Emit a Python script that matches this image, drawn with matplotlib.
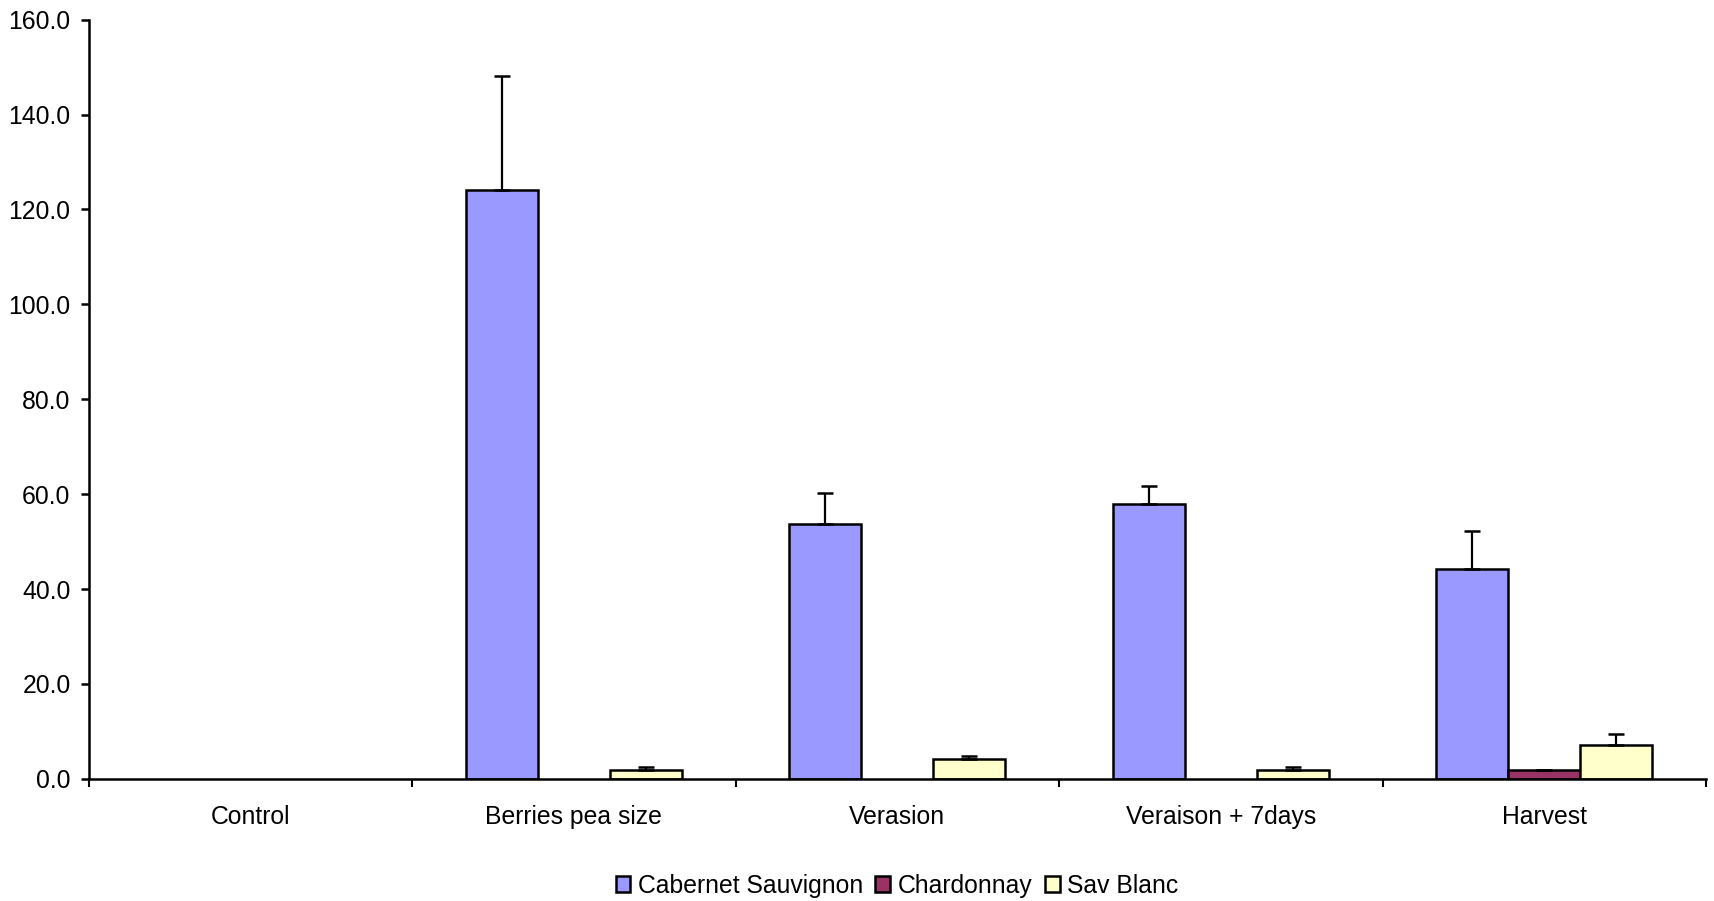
import matplotlib
matplotlib.use("Agg")
import matplotlib.pyplot as plt
import numpy as np
from matplotlib.ticker import FixedLocator, FormatStrFormatter

categories = ["Control", "Berries pea size", "Verasion", "Veraison + 7days", "Harvest"]
series_names = ["Cabernet Sauvignon", "Chardonnay", "Sav Blanc"]
cab = [0.0, 124.0, 53.8, 57.9, 44.2]
cab_err = [0.0, 24.2, 6.5, 3.9, 8.0]
chard = [0.0, 0.0, 0.0, 0.0, 1.85]
chard_err = [0.0, 0.0, 0.0, 0.0, 0.1]
sav = [0.0, 1.9, 4.2, 1.9, 7.1]
sav_err = [0.0, 0.55, 0.7, 0.55, 2.3]
colors = ["#9999FF", "#993366", "#FFFFCC"]

plt.rcParams['font.family'] = ['Liberation Sans', 'DejaVu Sans']
fig = plt.figure(figsize=(17.15, 9.01), dpi=100)
ax = fig.add_axes([88.6/1715, 1-778.8/901, (1706-88.6)/1715, (778.8-19.7)/901])

FS = 17.8
x = np.arange(len(categories))
bw = 1/4.5
data = [(cab, cab_err), (chard, chard_err), (sav, sav_err)]
handles = []
for i, ((vals, errs), c) in enumerate(zip(data, colors)):
    pos = x + (i-1)*bw
    v = np.array(vals); e = np.array(errs)
    lws = [1.8 if val > 0 else 0.0 for val in v]
    b = ax.bar(pos, v, width=bw, color=c, edgecolor='black', linewidth=lws, label=series_names[i], zorder=2)
    handles.append(b)
    mask = v > 0
    ax.errorbar(pos[mask], v[mask], yerr=[np.zeros(mask.sum()), e[mask]], fmt='none',
                ecolor='black', elinewidth=1.6, capsize=6, capthick=1.8, zorder=3)

ax.set_xlim(-0.5, len(categories)-0.5)
ax.set_ylim(0, 160)
ax.set_yticks(np.arange(0, 161, 20))
ax.yaxis.set_major_formatter(FormatStrFormatter('%.1f'))
ax.set_xticks(x)
ax.set_xticklabels(categories)
ax.xaxis.set_minor_locator(FixedLocator(np.arange(-0.5, len(categories), 1.0)))
ax.tick_params(axis='x', which='major', length=0, pad=19, labelsize=FS)
ax.tick_params(axis='x', which='minor', length=6, width=1.5, direction='out')
ax.tick_params(axis='y', length=6, width=1.8, direction='out', pad=7, labelsize=FS)
for s in ['top', 'right']:
    ax.spines[s].set_visible(False)
for s in ['left', 'bottom']:
    ax.spines[s].set_linewidth(1.8)

from matplotlib.patches import Patch
leg_handles = [Patch(facecolor=c, edgecolor='black', linewidth=1.8) for c in colors]
fig.legend(handles=leg_handles, labels=series_names, loc='center', bbox_to_anchor=(897/1715, 1-886/901),
           ncol=3, frameon=False, fontsize=FS, handlelength=0.6, handleheight=0.6,
           handletextpad=0.3, columnspacing=0.5)

fig.savefig("out.png", dpi=100)
